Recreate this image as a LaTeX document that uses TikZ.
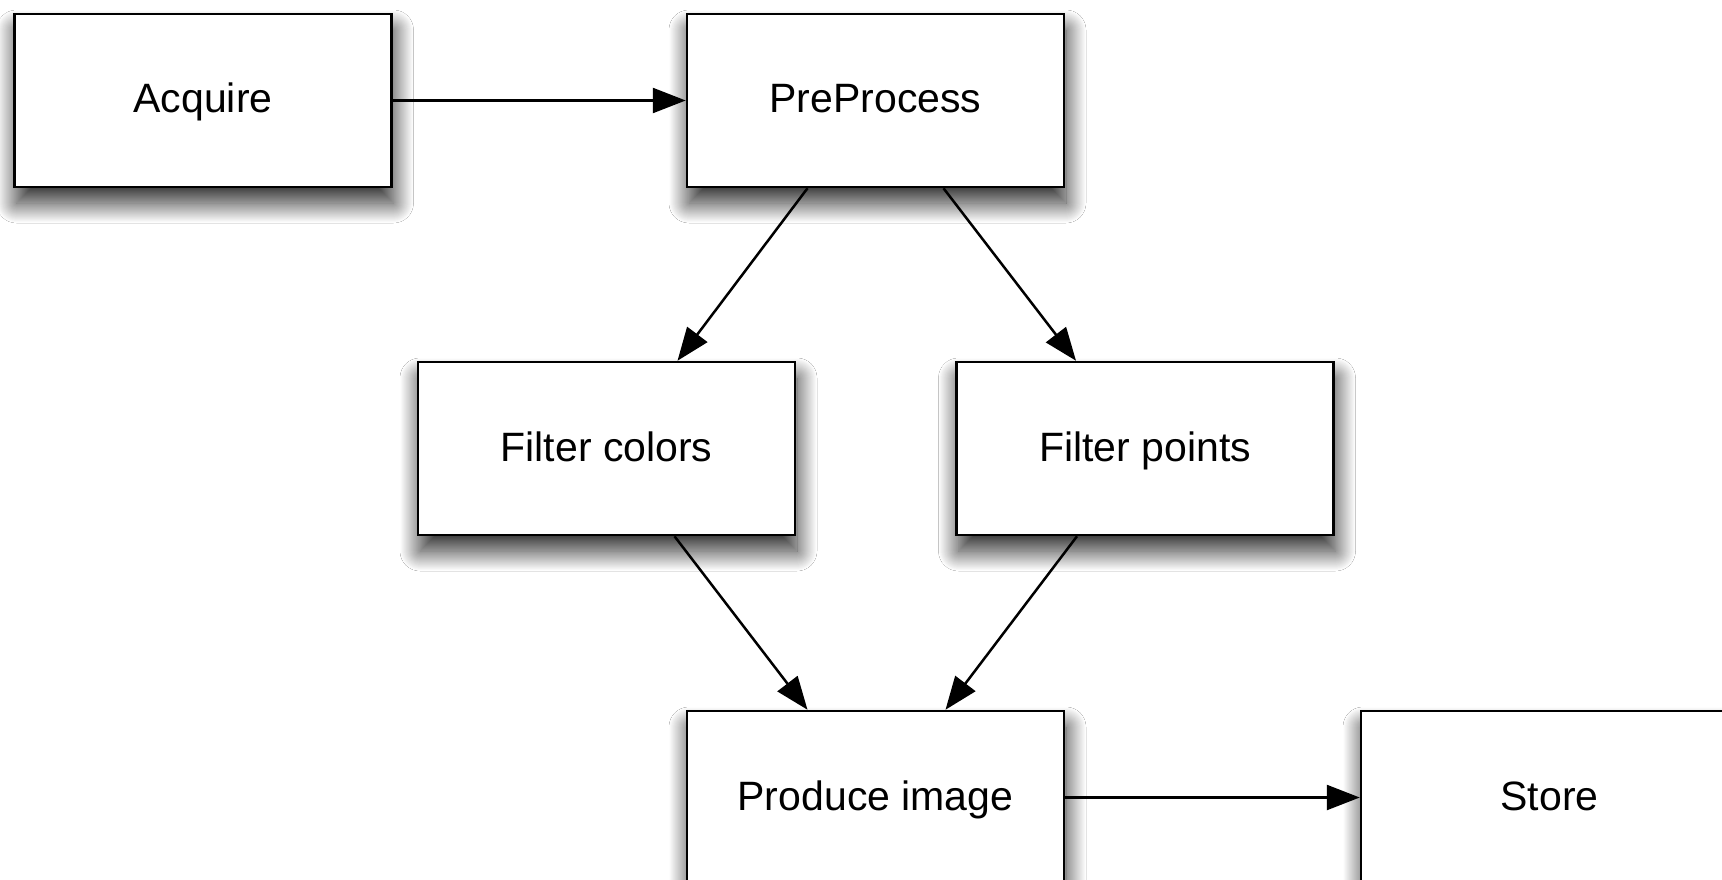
\documentclass[tikz,border=0pt]{standalone}
\usepackage{fontspec}
\setmainfont{Liberation Sans}
\usetikzlibrary{arrows.meta,shadows.blur}
\tikzset{
  stepbox/.style={draw=black, line width=2.5pt, fill=white, minimum width=377pt, minimum height=173pt,
    inner sep=0pt, font=\fontsize{41}{49}\selectfont, text height=30pt, text depth=5pt,
    blur shadow={shadow xshift=2pt, shadow yshift=-16pt, shadow blur radius=20pt, shadow blur steps=40, shadow opacity=85}},
  flow/.style={line width=2.5pt, -{Triangle[length=33pt,width=25pt]}}
}
\begin{document}
\begin{tikzpicture}[x=1pt,y=-1pt]
\useasboundingbox[fill=white] (0,0) rectangle (1722,880);
\node[stepbox] (acq) at (203,100.5) {Acquire};
\node[stepbox] (pp) at (875.5,100.5) {PreProcess};
\node[stepbox] (fc) at (606.5,448.5) {Filter colors};
\node[stepbox] (fp) at (1145,448.5) {Filter points};
\node[stepbox] (pi) at (875.5,797.5) {Produce image};
\node[stepbox] (st) at (1549.5,797.5) {Store};
\draw[flow] (acq.east) -- (pp.west);
\draw[flow] ([xshift=-68pt]pp.south) -- ([xshift=71pt]fc.north);
\draw[flow] ([xshift=68pt]pp.south) -- ([xshift=-69pt]fp.north);
\draw[flow] ([xshift=68pt]fc.south) -- ([xshift=-68pt]pi.north);
\draw[flow] ([xshift=-68pt]fp.south) -- ([xshift=70pt]pi.north);
\draw[flow] (pi.east) -- (st.west);
\end{tikzpicture}
\end{document}
